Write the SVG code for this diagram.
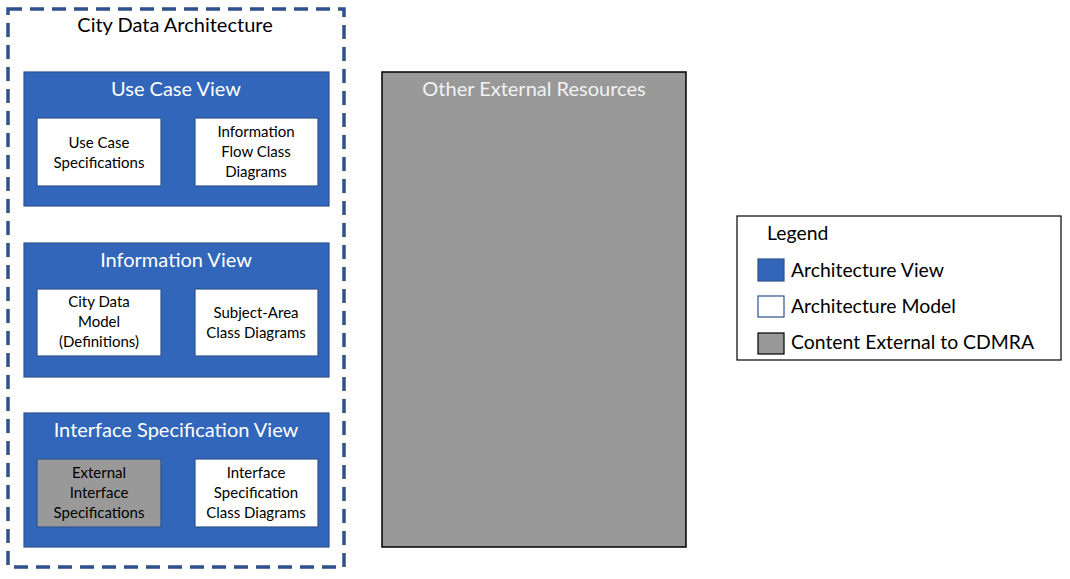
<svg xmlns="http://www.w3.org/2000/svg" width="1070" height="579" viewBox="0 0 1070 579">
<style>
text{font-family:Lato,"Open Sans","Liberation Sans",sans-serif;text-anchor:middle}
.view{fill:#3166BA;stroke:#2F528F;stroke-width:1.2}
.model{fill:#ffffff;stroke:#2F528F;stroke-width:1.2}
.ext{fill:#999999;stroke:#2F528F;stroke-width:1.2}
.vt{fill:#ffffff;font-size:20px}
.mt{fill:#000000;font-size:15px}
.lt{fill:#000000;font-size:19.4px;text-anchor:start}
</style>
<rect width="1070" height="579" fill="#ffffff"/>
<g id="city-data-architecture">
<rect x="8" y="9" width="336" height="558" fill="none" stroke="#2F528F" stroke-width="3.5" stroke-dasharray="14,8"/>
<text x="175" y="32" font-size="20" fill="#000">City Data Architecture</text>
</g>
<g id="use-case-view">
<rect class="view" x="24" y="72" width="305" height="134"/>
<text class="vt" x="176" y="96">Use Case View</text>
</g>
<g id="use-case-specifications">
<rect class="model" x="37" y="118" width="124" height="68"/>
<text class="mt" x="99" y="148">Use Case</text>
<text class="mt" x="99" y="168">Specifications</text>
</g>
<g id="information-flow-class-diagrams">
<rect class="model" x="195" y="118" width="123" height="68"/>
<text class="mt" x="256" y="137">Information</text>
<text class="mt" x="256" y="157">Flow Class</text>
<text class="mt" x="256" y="177">Diagrams</text>
</g>
<g id="information-view">
<rect class="view" x="24" y="243" width="305" height="134"/>
<text class="vt" x="176" y="267">Information View</text>
</g>
<g id="city-data-model">
<rect class="model" x="37" y="289" width="124" height="67"/>
<text class="mt" x="99" y="307">City Data</text>
<text class="mt" x="99" y="327">Model</text>
<text class="mt" x="99" y="347">(Definitions)</text>
</g>
<g id="subject-area-class-diagrams">
<rect class="model" x="195" y="289" width="123" height="67"/>
<text class="mt" x="256" y="318">Subject-Area</text>
<text class="mt" x="256" y="338">Class Diagrams</text>
</g>
<g id="interface-specification-view">
<rect class="view" x="24" y="413" width="305" height="134"/>
<text class="vt" x="176" y="437">Interface Specification View</text>
</g>
<g id="external-interface-specifications">
<rect class="ext" x="37" y="459" width="124" height="68"/>
<text class="mt" x="99" y="478">External</text>
<text class="mt" x="99" y="498">Interface</text>
<text class="mt" x="99" y="518">Specifications</text>
</g>
<g id="interface-specification-class-diagrams">
<rect class="model" x="195" y="459" width="123" height="68"/>
<text class="mt" x="256" y="478">Interface</text>
<text class="mt" x="256" y="498">Specification</text>
<text class="mt" x="256" y="518">Class Diagrams</text>
</g>
<g id="other-external-resources">
<rect x="382" y="72" width="304" height="475" fill="#999999" stroke="#000000" stroke-width="1.5"/>
<text x="534" y="96" font-size="20" fill="#f2f2f2">Other External Resources</text>
</g>
<g id="legend">
<rect x="737" y="216" width="324" height="144" fill="#ffffff" stroke="#000000" stroke-width="1.2"/>
<text class="lt" x="767" y="240">Legend</text>
<rect class="view" x="758" y="259" width="26" height="22"/>
<text class="lt" x="791" y="277">Architecture View</text>
<rect class="model" x="758" y="296" width="26" height="21"/>
<text class="lt" x="791" y="313">Architecture Model</text>
<rect x="758" y="333" width="26" height="21" fill="#999999" stroke="#000" stroke-width="1.2"/>
<text class="lt" x="791" y="349">Content External to CDMRA</text>
</g>
<g id="connectors"></g>
</svg>
